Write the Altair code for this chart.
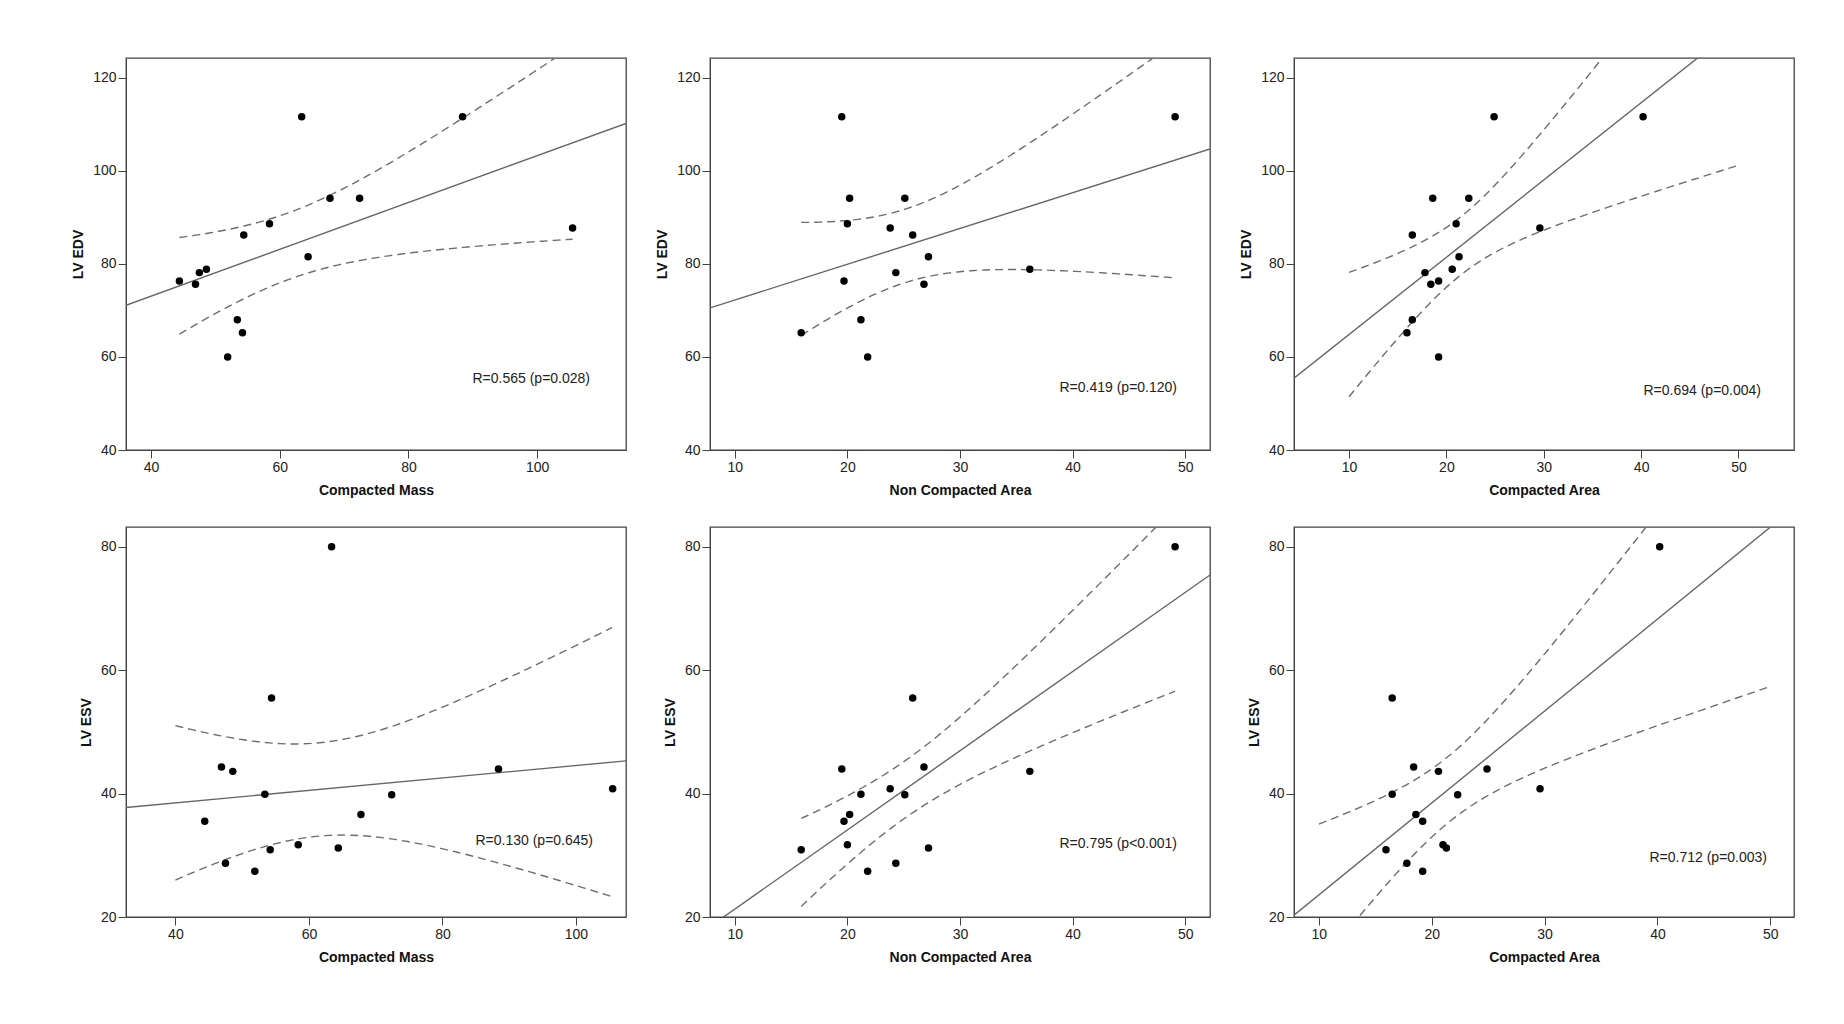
import altair as alt
import numpy as np
import pandas as pd

# ---- data (15 subjects) ----
compacted_mass = [63.4, 88.4, 67.8, 72.4, 58.4, 105.5, 54.4, 64.4, 48.6, 47.5, 44.4, 46.9, 53.4, 54.2, 51.9]
non_compacted_area = [49.1, 19.5, 20.2, 25.1, 20.0, 23.8, 25.8, 27.2, 36.2, 24.3, 19.7, 26.8, 21.2, 15.9, 21.8]
compacted_area = [40.2, 24.9, 18.6, 22.3, 21.0, 29.6, 16.5, 21.3, 20.6, 17.8, 19.2, 18.4, 16.5, 15.95, 19.2]
lv_edv = [111.6, 111.6, 94.1, 94.1, 88.6, 87.7, 86.2, 81.5, 78.8, 78.1, 76.3, 75.6, 68.0, 65.2, 60.0]
lv_esv = [80.0, 44.0, 36.6, 39.8, 31.7, 40.8, 55.5, 31.2, 43.6, 28.7, 35.5, 44.3, 39.9, 30.9, 27.4]

r_labels_edv = ["R=0.565 (p=0.028)", "R=0.419 (p=0.120)", "R=0.694 (p=0.004)"]
r_labels_esv = ["R=0.130 (p=0.645)", "R=0.795 (p<0.001)", "R=0.712 (p=0.003)"]
x_titles = ["Compacted Mass", "Non Compacted Area", "Compacted Area"]
x_ticks_mass = [40, 60, 80, 100]
x_ticks_area = [10, 20, 30, 40, 50]
edv_ticks = [40, 60, 80, 100, 120]
esv_ticks = [20, 40, 60, 80]
edv_x_domains = [[36.1, 113.8], [7.8, 52.2], [4.35, 55.7]]
esv_x_domains = [[32.6, 107.5], [7.8, 52.2], [7.8, 52.1]]
edv_y_domain = [40, 124.2]
esv_y_domain = [20, 83.2]
edv_ci_ranges = [[44.4, 105.5], [15.9, 49.1], [10, 50]]
esv_ci_ranges = [[40, 105.4], [15.9, 49.1], [10, 50]]
T_CRIT = 2.160  # t(0.975, df=13)

W = 500
FONT = "Liberation Sans"
FRAME = "#444444"


def ci_frame(xv, yv, lo, hi):
    x = np.asarray(xv, float)
    y = np.asarray(yv, float)
    n = len(x)
    b, a = np.polyfit(x, y, 1)
    resid = y - (a + b * x)
    s = np.sqrt(np.sum(resid ** 2) / (n - 2))
    xbar = x.mean()
    sxx = np.sum((x - xbar) ** 2)
    xs = np.linspace(lo, hi, 80)
    fit = a + b * xs
    half = T_CRIT * s * np.sqrt(1.0 / n + (xs - xbar) ** 2 / sxx)
    return pd.DataFrame({"x": xs, "lower": fit - half, "upper": fit + half})


def panel(xv, yv, xtitle, ytitle, xdom, ydom, xticks, yticks, ci_rng, label, lab_pos, h):
    df = pd.DataFrame({"x": xv, "y": yv})
    xs = alt.Scale(domain=xdom, nice=False, zero=False)
    ys = alt.Scale(domain=ydom, nice=False, zero=False)
    xax = alt.Axis(values=xticks, title=xtitle, grid=False, tickSize=8, labelFontSize=14,
                   titleFontSize=14, titleFontWeight="bold", labelPadding=2, titlePadding=9,
                   domainColor=FRAME, tickColor=FRAME, labelColor="#222222", titleColor="#111111",
                   labelFlush=False, format="d")
    yax = alt.Axis(values=yticks, title=ytitle, grid=False, tickSize=8, labelFontSize=14,
                   titleFontSize=14, titleFontWeight="bold", labelPadding=2, titlePadding=7,
                   domainColor=FRAME, tickColor=FRAME, labelColor="#222222", titleColor="#111111",
                   labelFlush=False, format="d")
    base = alt.Chart(df)
    pts = base.mark_circle(size=56, color="black", opacity=1).encode(
        x=alt.X("x:Q", scale=xs, axis=xax), y=alt.Y("y:Q", scale=ys, axis=yax))
    line = base.transform_regression("x", "y", extent=xdom).mark_line(
        clip=True, color="#666666", strokeWidth=1.4).encode(
        x=alt.X("x:Q", scale=xs), y=alt.Y("y:Q", scale=ys))
    cdf = ci_frame(xv, yv, ci_rng[0], ci_rng[1])
    ci = alt.Chart(cdf).transform_fold(["lower", "upper"], as_=["band", "val"]).mark_line(
        clip=True, color="#6e6e6e", strokeWidth=1.4, strokeDash=[8, 5]).encode(
        x=alt.X("x:Q", scale=xs), y=alt.Y("val:Q", scale=ys), detail="band:N")
    txt = alt.Chart(pd.DataFrame({"t": [label]})).mark_text(
        align="right", baseline="middle", fontSize=14, color="#222222", font=FONT).encode(
        text="t:N", x=alt.value(lab_pos[0]), y=alt.value(lab_pos[1]))
    return alt.layer(ci, line, pts, txt).properties(width=W, height=h)


edv_x = [compacted_mass, non_compacted_area, compacted_area]
edv_xticks = [x_ticks_mass, x_ticks_area, x_ticks_area]
edv_lab = [(464, 321), (467, 330), (467, 333)]
esv_lab = [(467, 314), (467, 317), (473, 331)]

panels = []
for i in range(3):
    panels.append(panel(edv_x[i], lv_edv, x_titles[i], "LV EDV", edv_x_domains[i], edv_y_domain,
                        edv_xticks[i], edv_ticks, edv_ci_ranges[i], r_labels_edv[i], edv_lab[i], 392))
for i in range(3):
    panels.append(panel(edv_x[i], lv_esv, x_titles[i], "LV ESV", esv_x_domains[i], esv_y_domain,
                        edv_xticks[i], esv_ticks, esv_ci_ranges[i], r_labels_esv[i], esv_lab[i], 390))

chart = alt.concat(*panels, columns=3, spacing={"row": 77, "column": 84}, bounds="flush").properties(
    padding={"left": 62, "top": 49, "right": 5, "bottom": 5}
).configure(font=FONT).configure_view(stroke=FRAME, strokeWidth=1.3)

chart.save("out.html", embed_options={"renderer": "svg", "actions": False})
